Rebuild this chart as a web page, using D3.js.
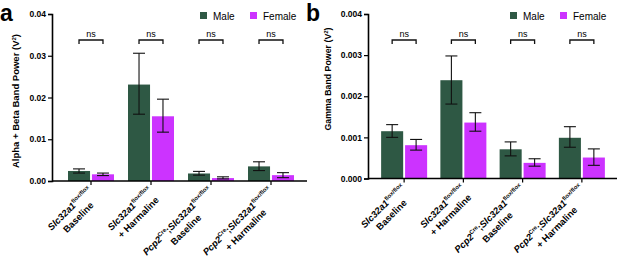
<!DOCTYPE html>
<html>
<head>
<meta charset="utf-8">
<script src="https://cdn.jsdelivr.net/npm/d3@7"></script>
<style>
  body { margin: 0; background: #fff; }
  svg { font-family: "Liberation Sans", Arial, sans-serif; }
  .tick-lbl { font-size: 8.5px; font-weight: bold; }
  .ylab { font-weight: bold; }
  .xlab { font-size: 9.4px; font-weight: bold; }
  .leg { font-size: 10px; }
  .ns { font-size: 9px; }
  .panel { font-size: 23px; font-weight: bold; }
</style>
</head>
<body>
<div id="chart"></div>
<script>
const width = 617, height = 257;

// data
const groups = ['SlcBase', 'SlcHarm', 'PcpBase', 'PcpHarm'];
const sexes = ['Male', 'Female'];
const colors = { Male: '#2e5844', Female: '#cc33ff' };

// panel a: alpha + beta band power (mean, err low, err high)
const alphaMale = [0.0024, 0.0231, 0.0018, 0.0035];
const alphaMaleLo = [0.0019, 0.0160, 0.0014, 0.0025];
const alphaMaleHi = [0.0029, 0.0306, 0.0023, 0.0046];
const alphaFemale = [0.0016, 0.0155, 0.0007, 0.0014];
const alphaFemaleLo = [0.0013, 0.0117, 0.0005, 0.0008];
const alphaFemaleHi = [0.0019, 0.0196, 0.0010, 0.0020];
const alphaTicks = [0, 0.01, 0.02, 0.03, 0.04];

// panel b: gamma band power
const gammaMale = [0.00115, 0.00239, 0.00071, 0.00099];
const gammaMaleLo = [0.00100, 0.00181, 0.00055, 0.00076];
const gammaMaleHi = [0.00131, 0.00298, 0.00089, 0.00126];
const gammaFemale = [0.00081, 0.00136, 0.00038, 0.00051];
const gammaFemaleLo = [0.00069, 0.00115, 0.00030, 0.00032];
const gammaFemaleHi = [0.00095, 0.00160, 0.00048, 0.00072];
const gammaTicks = [0, 0.001, 0.002, 0.003, 0.004];

const svg = d3.select('#chart').append('svg')
    .attr('width', width).attr('height', height);

function rows(m, mLo, mHi, f, fLo, fHi) {
    return groups.map((g, i) => ({
        group: g,
        bars: [
            { sex: 'Male', v: m[i], lo: mLo[i], hi: mHi[i] },
            { sex: 'Female', v: f[i], lo: fLo[i], hi: fHi[i] }
        ]
    }));
}

// label lines: arrays of [text, style] pieces
const xLabels = [
    [[['Slc32a1', 'i'], ['flox/flox', 's']], [['Baseline', '']]],
    [[['Slc32a1', 'i'], ['flox/flox', 's']], [['+ Harmaline', '']]],
    [[['Pcp2', 'i'], ['Cre', 's'], [';', ''], ['Slc32a1', 'i'], ['flox/flox', 's']], [['Baseline', '']]],
    [[['Pcp2', 'i'], ['Cre', 's'], [';', ''], ['Slc32a1', 'i'], ['flox/flox', 's']], [['+ Harmaline', '']]]
];

function addPieces(text, pieces) {
    let up = false;
    pieces.forEach(p => {
        const t = text.append('tspan').text(p[0]);
        if (p[1] === 'i') t.attr('font-style', 'italic');
        if (p[1] === 's') {
            t.attr('font-size', '5.8px').attr('dy', -3.8);
            up = true;
        } else if (up) {
            t.attr('dy', 3.8);
            up = false;
        }
    });
}

function drawPanel(cfg) {
    const data = rows(...cfg.series);
    const y = d3.scaleLinear().domain([0, cfg.ymax]).range([cfg.y0, cfg.ytop]);
    const x0 = d3.scaleBand().domain(groups).range(cfg.xr);
    const x1 = d3.scaleBand().domain(sexes).range([-23, 23]).paddingInner(0.08);

    const g = svg.append('g');

    // bars
    const grp = g.selectAll('.grp').data(data).enter().append('g')
        .attr('transform', d => 'translate(' + (x0(d.group) + x0.bandwidth() / 2) + ',0)');
    grp.selectAll('rect').data(d => d.bars).enter().append('rect')
        .attr('x', d => x1(d.sex))
        .attr('width', x1.bandwidth())
        .attr('y', d => y(d.v))
        .attr('height', d => y(0) - y(d.v))
        .attr('fill', d => colors[d.sex]);

    // error bars
    const eb = grp.selectAll('.eb').data(d => d.bars).enter().append('g')
        .attr('stroke', '#111').attr('stroke-width', 1.1);
    eb.append('line')
        .attr('x1', d => x1(d.sex) + x1.bandwidth() / 2)
        .attr('x2', d => x1(d.sex) + x1.bandwidth() / 2)
        .attr('y1', d => y(d.lo)).attr('y2', d => y(d.hi));
    [d => d.lo, d => d.hi].forEach(acc => {
        eb.append('line')
            .attr('x1', d => x1(d.sex) + x1.bandwidth() / 2 - 6)
            .attr('x2', d => x1(d.sex) + x1.bandwidth() / 2 + 6)
            .attr('y1', d => y(acc(d))).attr('y2', d => y(acc(d)));
    });

    // ns brackets
    const br = grp.append('g');
    const cM = x1('Male') + x1.bandwidth() / 2, cF = x1('Female') + x1.bandwidth() / 2;
    br.append('path')
        .attr('d', 'M' + cM + ',' + (cfg.nsY + 4) + 'V' + cfg.nsY + 'H' + cF + 'V' + (cfg.nsY + 4))
        .attr('fill', 'none').attr('stroke', '#111').attr('stroke-width', 1.3);
    br.append('text').attr('class', 'ns')
        .attr('x', (cM + cF) / 2).attr('y', cfg.nsY - 3)
        .attr('text-anchor', 'middle').text('ns');

    // y axis
    const yAx = g.append('g')
        .attr('transform', 'translate(' + cfg.xr0 + ',0)')
        .call(d3.axisLeft(y).tickValues(cfg.ticks).tickSize(4).tickPadding(2)
            .tickFormat(d3.format(cfg.fmt)));
    yAx.select('.domain').attr('stroke-width', 1.6);
    yAx.selectAll('.tick line').attr('stroke-width', 1.2);
    yAx.selectAll('.tick text').attr('class', 'tick-lbl').attr('font-size', null).attr('font-family', null);

    // x axis
    const xAx = g.append('g')
        .attr('transform', 'translate(0,' + cfg.y0 + ')')
        .call(d3.axisBottom(x0).tickSize(4).tickSizeOuter(0).tickFormat(''));
    xAx.select('.domain').attr('d', 'M' + cfg.xr0 + ',0H' + cfg.xend).attr('stroke-width', 1.6);
    xAx.selectAll('.tick line').attr('stroke-width', 1.2);

    // x labels
    groups.forEach((gr, i) => {
        const cx = x0(gr) + x0.bandwidth() / 2;
        const lg = g.append('g')
            .attr('transform', 'translate(' + (cx + 1) + ',' + (cfg.y0 + 9.5) + ') rotate(-45)');
        const t1 = lg.append('text').attr('class', 'xlab').attr('text-anchor', 'middle');
        addPieces(t1, xLabels[i][0]);
        const L = t1.node().getComputedTextLength();
        t1.attr('x', -L / 2);
        const t2 = lg.append('text').attr('class', 'xlab').attr('text-anchor', 'middle')
            .attr('x', -L / 2).attr('y', 12.5);
        addPieces(t2, xLabels[i][1]);
    });

    // y label
    const yl = svg.append('text').attr('class', 'ylab')
        .attr('font-size', cfg.ylfs + 'px')
        .attr('text-anchor', 'middle')
        .attr('transform', 'translate(' + cfg.ylx + ',' + cfg.yly + ') rotate(-90)');
    yl.append('tspan').text(cfg.ylabel);
    yl.append('tspan').attr('font-size', '6px').attr('dy', -3.5).text('2');
    yl.append('tspan').attr('dy', 3.5).text(')');

    // legend
    sexes.forEach((s, i) => {
        const lx = cfg.legX[i];
        svg.append('rect').attr('x', lx).attr('y', 12).attr('width', 7).attr('height', 7)
            .attr('fill', colors[s]);
        svg.append('text').attr('class', 'leg').attr('x', lx + 13).attr('y', 19.5).text(s);
    });

    // panel letter
    svg.append('text').attr('class', 'panel').attr('x', cfg.letterX).attr('y', 21).text(cfg.letter);
}

drawPanel({
    series: [alphaMale, alphaMaleLo, alphaMaleHi, alphaFemale, alphaFemaleLo, alphaFemaleHi],
    ymax: 0.04, y0: 181, ytop: 14, xr: [61, 301], xr0: 52, xend: 307,
    ticks: alphaTicks, fmt: '.2f', nsY: 40,
    ylabel: 'Alpha + Beta Band Power (V', ylx: 19, yly: 101, ylfs: 9.5,
    legX: [200, 250], letter: 'a', letterX: 0
});

drawPanel({
    series: [gammaMale, gammaMaleLo, gammaMaleHi, gammaFemale, gammaFemaleLo, gammaFemaleHi],
    ymax: 0.004, y0: 178.5, ytop: 14, xr: [374.5, 611.5], xr0: 368, xend: 617,
    ticks: gammaTicks, fmt: '.3f', nsY: 40,
    ylabel: 'Gamma Band Power (V', ylx: 331, yly: 79, ylfs: 8.8,
    legX: [510, 560], letter: 'b', letterX: 306
});
</script>
</body>
</html>
